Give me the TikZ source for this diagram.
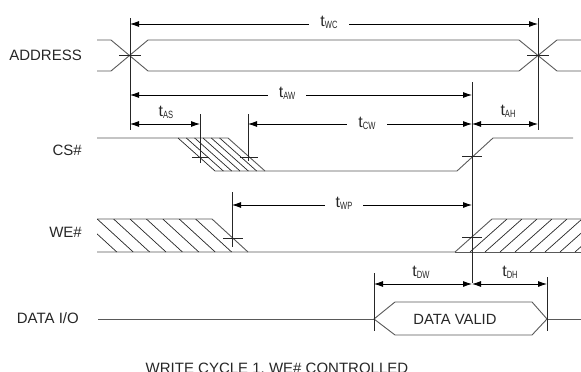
\documentclass[tikz,border=0pt]{standalone}
\usepackage{graphicx}
\usepackage{fontspec}
\setmainfont{Liberation Sans}
\usetikzlibrary{arrows.meta}

\newcommand{\tsym}[1]{{\fontsize{16}{16}\selectfont t}\raisebox{-2pt}{\scalebox{0.72}[1]{\fontsize{10.5}{11}\selectfont #1}}}

\begin{document}
\begin{tikzpicture}[x=1pt, y=-1pt,
  sig/.style={draw=black!65, line width=0.9pt},
  refl/.style={draw=black!85, line width=0.8pt},
  dim/.style={{Latex[length=9pt,width=6pt]}-{Latex[length=9pt,width=6pt]}, draw=black, line width=0.8pt},
  hatch/.style={draw=black!85, line width=0.7pt},
  signame/.style={anchor=east, inner sep=0pt, text=black!85, font=\fontsize{15}{17}\selectfont},
  online/.style={fill=white, inner xsep=11pt, inner ysep=2pt, text=black!85},
  above/.style={inner sep=1pt, text=black!85},
]
\useasboundingbox (0,0) rectangle (581,372);

% signal names
\node[signame] (addr) at (82,55)  {ADDRESS};
\node[signame] (cs)   at (82,150) {CS\#};
\node[signame] (we)   at (82,232) {WE\#};
\node[signame] (dio)  at (79,318) {DATA I/O};

% ADDRESS bus
\draw[sig] (97,40) -- (111,40) -- (148,71) -- (519,71) -- (557,40) -- (581,40);
\draw[sig] (97,71) -- (111,71) -- (148,40) -- (519,40) -- (557,71) -- (581,71);
\draw[refl] (119,55.5) -- (141,55.5);
\draw[refl] (527,55.5) -- (549,55.5);

% CS#
\draw[sig] (97,138) -- (228,138) -- (265,171);
\draw[sig] (215,171) -- (457,171) -- (493,138) -- (573,138);
\foreach \k in {0,...,5}
  \draw[hatch] ({178+8.33*\k},138) -- ({215+8.33*\k},171);
\draw[refl] (192,157) -- (209,157);
\draw[refl] (240,157) -- (258,157);
\draw[refl] (462,156) -- (482,156);

% WE#
\draw[sig] (97,219) -- (212,219) -- (248,252);
\draw[sig] (97,252) -- (455,252) -- (492,219) -- (581,219);
\draw[sig] (455,252) -- (581,252);
\begin{scope}
  \clip (97,219) -- (212,219) -- (248,252) -- (97,252) -- cycle;
  \foreach \k in {1,...,8}
    \draw[hatch] ({212-16.4*\k},219) -- ({248-16.4*\k},252);
\end{scope}
\begin{scope}
  \clip (455,252) -- (492,219) -- (581,219) -- (581,252) -- cycle;
  \foreach \k in {1,...,9}
    \draw[hatch] ({492+15*\k},219) -- ({455+15*\k},252);
\end{scope}
\draw[refl] (223,238) -- (243,238);
\draw[refl] (462,237) -- (482,237);

% DATA I/O
\draw[sig] (98,319) -- (374,319);
\draw[sig] (374,319) -- (395,302) -- (532,302) -- (547,319) -- (532,335) -- (395,335) -- cycle;
\draw[sig] (547,319) -- (581,319);
\node[text=black!85, font=\fontsize{14.8}{17}\selectfont] (valid) at (455,319) {DATA VALID};

% reference lines
\draw[refl] (130,18) -- (130,130);
\draw[refl] (538,18) -- (538,130);
\draw[refl] (472,82) -- (472,283);
\draw[refl] (200,114) -- (200,163);
\draw[refl] (248,114) -- (248,161);
\draw[refl] (232,192) -- (232,247);
\draw[refl] (374,273) -- (374,331);
\draw[refl] (547,277) -- (547,331);

% dimension ends
\coordinate (wc0) at (130,24);  \coordinate (wc1) at (538,24);
\coordinate (aw0) at (130,95);  \coordinate (aw1) at (472,95);
\coordinate (as0) at (130,124); \coordinate (as1) at (200,124);
\coordinate (cw0) at (248,124); \coordinate (cw1) at (472,124);
\coordinate (ah0) at (472,124); \coordinate (ah1) at (538,124);
\coordinate (wp0) at (232,205); \coordinate (wp1) at (472,205);
\coordinate (dw0) at (374,284); \coordinate (dw1) at (472,284);
\coordinate (dh0) at (472,284); \coordinate (dh1) at (547,284);

\draw[dim] (wc0) -- (wc1);
\draw[dim] (aw0) -- (aw1);
\draw[dim] (as0) -- (as1);
\draw[dim] (cw0) -- (cw1);
\draw[dim] (ah0) -- (ah1);
\draw[dim] (wp0) -- (wp1);
\draw[dim] (dw0) -- (dw1);
\draw[dim] (dh0) -- (dh1);

% timing labels
\node[online] (twc) at (329,22)  {\tsym{WC}};
\node[online] (taw) at (287,93)  {\tsym{AW}};
\node[online] (tcw) at (367,123) {\tsym{CW}};
\node[online] (twp) at (344,203) {\tsym{WP}};
\node[above]  (tas) at (166,112) {\tsym{AS}};
\node[above]  (tah) at (508,111) {\tsym{AH}};
\node[above]  (tdw) at (421,272) {\tsym{DW}};
\node[above]  (tdh) at (510,272) {\tsym{DH}};

% caption
\node[anchor=base, inner sep=0pt, text=black!85, font=\fontsize{15}{17}\selectfont] (cap) at (277,373)
  {WRITE CYCLE 1, WE\# CONTROLLED};
\end{tikzpicture}
\end{document}
